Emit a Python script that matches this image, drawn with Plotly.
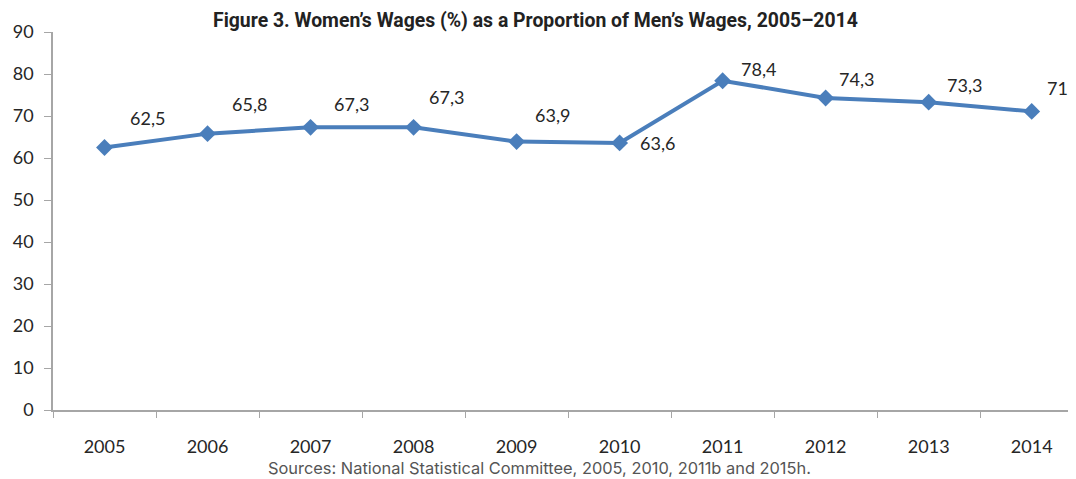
import plotly.graph_objects as go

years = ["2005", "2006", "2007", "2008", "2009", "2010", "2011", "2012", "2013", "2014"]
ratio = [62.5, 65.8, 67.3, 67.3, 63.9, 63.6, 78.4, 74.3, 73.3, 71.1]
label_text = ["62,5", "65,8", "67,3", "67,3", "63,9", "63,6", "78,4", "74,3", "73,3", "71,1"]
y_ticks = [0, 10, 20, 30, 40, 50, 60, 70, 80, 90]

# label offsets in px (style)
label_dx = [43, 42, 41, 33, 36, 38, 36, 31, 36, 33]
label_dy = [30, 30, 23, 30, 27, 0, 12, 19, 17, 23]

BLUE = "#4A7EBB"
TXT = "#262626"
AX = "#A6A6A6"
FONT = "Lato, Open Sans, sans-serif"

fig = go.Figure()
fig.add_trace(go.Scatter(
    x=years, y=ratio, mode="lines+markers",
    line=dict(color=BLUE, width=4),
    marker=dict(symbol="diamond", size=13, color=BLUE),
    hoverinfo="x+y", showlegend=False,
))

for i, (y, t, dx, dy) in enumerate(zip(ratio, label_text, label_dx, label_dy)):
    fig.add_annotation(x=i, y=y, text=t, showarrow=False,
                       xshift=dx, yshift=dy,
                       font=dict(family=FONT, size=18, color=TXT))

fig.add_annotation(xref="paper", yref="paper", x=0.472, y=1.0, yshift=12,
                   text="<b>Figure 3. Women’s Wages (%) as a Proportion of Men’s Wages, 2005–2014</b>",
                   showarrow=False, font=dict(family="Roboto, sans-serif", size=19.4, color="#222"),
                   xanchor="center", yanchor="middle")
fig.add_annotation(xref="paper", yref="paper", x=0.476, y=0, yshift=-58,
                   text="Sources: National Statistical Committee, 2005, 2010, 2011b and 2015h.",
                   showarrow=False, font=dict(family="Inter, Roboto, sans-serif", size=16.4, color="#555"),
                   xanchor="center", yanchor="middle")

fig.update_layout(
    width=1076, height=479,
    margin=dict(l=45, r=8, t=24, b=77),
    paper_bgcolor="white", plot_bgcolor="white",
    xaxis=dict(
        type="category", range=[-0.5, 9.43], automargin=False,
        showline=True, linecolor=AX, linewidth=1.5,
        ticks="outside", tickson="boundaries", ticklen=6, tickcolor=AX,
        tickfont=dict(family=FONT, size=18, color=TXT),
        showgrid=False, zeroline=False, ticklabelstandoff=20,
    ),
    yaxis=dict(
        range=[0, 90], tickvals=y_ticks, automargin=False,
        showline=True, linecolor=AX, linewidth=1.5,
        ticks="outside", ticklen=7, tickcolor=AX,
        tickfont=dict(family=FONT, size=18, color=TXT),
        showgrid=False, zeroline=False, ticklabelstandoff=7,
    ),
)

fig.write_html("out.html")
